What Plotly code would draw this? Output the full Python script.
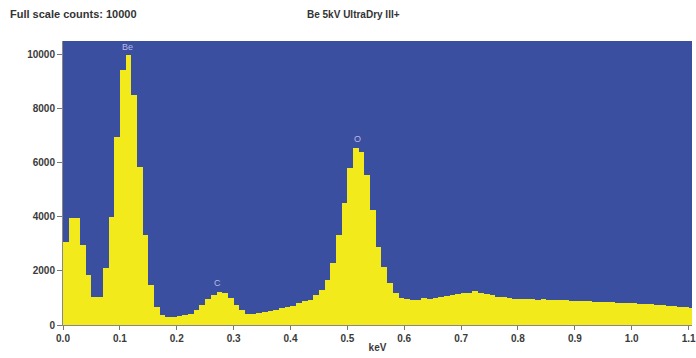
import plotly.graph_objects as go

bin_width = 0.01
bin_start = [round(i * bin_width, 2) for i in range(111)]
counts = [
    3070, 3940, 3940, 2950, 1845, 1045, 1045, 2090, 4000, 6950,
    9410, 9960, 8490, 5840, 3320, 1475, 675, 370, 300, 285,
    320, 380, 420, 550, 740, 950, 1110, 1230, 1170, 985,
    740, 550, 420, 400, 440, 470, 520, 560, 640, 680,
    700, 800, 880, 920, 1100, 1290, 1660, 2280, 3320, 4490,
    5780, 6520, 6400, 5535, 4240, 2890, 2150, 1540, 1170, 1000,
    950, 920, 930, 980, 960, 1000, 1020, 1080, 1100, 1150,
    1170, 1180, 1260, 1190, 1150, 1100, 1050, 1040, 1000, 970,
    960, 950, 960, 940, 950, 930, 940, 920, 910, 900,
    890, 870, 880, 860, 860, 850, 840, 830, 820, 810,
    800, 790, 780, 770, 750, 730, 710, 690, 670, 650,
    640,
]
peak_labels = ["Be", "C", "O"]
peak_x = [0.113, 0.272, 0.517]
peak_y = [10250, 1550, 6860]
x_ticks = [0.0, 0.1, 0.2, 0.3, 0.4, 0.5, 0.6, 0.7, 0.8, 0.9, 1.0, 1.1]
y_ticks = [0, 2000, 4000, 6000, 8000, 10000]

bar_x = [s + bin_width / 2 for s in bin_start]

fig = go.Figure()
fig.add_trace(go.Bar(
    x=bar_x, y=counts, width=bin_width,
    marker=dict(color="#F3EA1C", line=dict(width=0)),
    hoverinfo="skip",
))

for lab, px, py in zip(peak_labels, peak_x, peak_y):
    fig.add_annotation(x=px, y=py, text=lab, showarrow=False,
                       font=dict(family="Liberation Sans", size=9, color="#B9B6E6"))

tickfont = dict(family="Liberation Sans", size=10, color="#3a3a3a", weight="bold")

fig.update_layout(
    width=696, height=358,
    margin=dict(l=63, r=0, t=41, b=33),
    paper_bgcolor="white",
    plot_bgcolor="#3A4FA0",
    bargap=0,
    showlegend=False,
    xaxis=dict(
        range=[0, 1.106], tickvals=x_ticks, ticktext=[f"{v:.1f}" for v in x_ticks],
        ticks="outside", ticklen=4, tickcolor="#777", showgrid=False, zeroline=False,
        showline=True, linecolor="#888", linewidth=1, tickfont=tickfont,
        ticklabeloverflow="allow",
        title=dict(text="keV", font=tickfont, standoff=0),
    ),
    yaxis=dict(
        range=[0, 10480], tickvals=y_ticks, ticktext=[str(v) for v in y_ticks],
        ticks="outside", ticklen=5, tickcolor="#777",
        showgrid=False, zeroline=False, showline=True, linecolor="#888", linewidth=1,
        tickfont=tickfont,
    ),
)

fig.add_annotation(xref="paper", yref="paper", x=(8 - 63) / 633, y=1 + 27 / 284, xanchor="left",
                   yanchor="middle", text="Full scale counts: 10000", showarrow=False,
                   font=dict(family="Liberation Sans", size=11, color="#333", weight="bold"))
fig.add_annotation(xref="paper", yref="paper", x=(307 - 63) / 633, y=1 + 27 / 284, xanchor="left",
                   yanchor="middle", text="Be 5kV UltraDry III+", showarrow=False,
                   font=dict(family="Liberation Sans", size=10, color="#333", weight="bold"))

fig.write_html("out.html", config={"displayModeBar": False},
               post_script="document.body.style.margin='0px';document.body.style.overflow='hidden';")
